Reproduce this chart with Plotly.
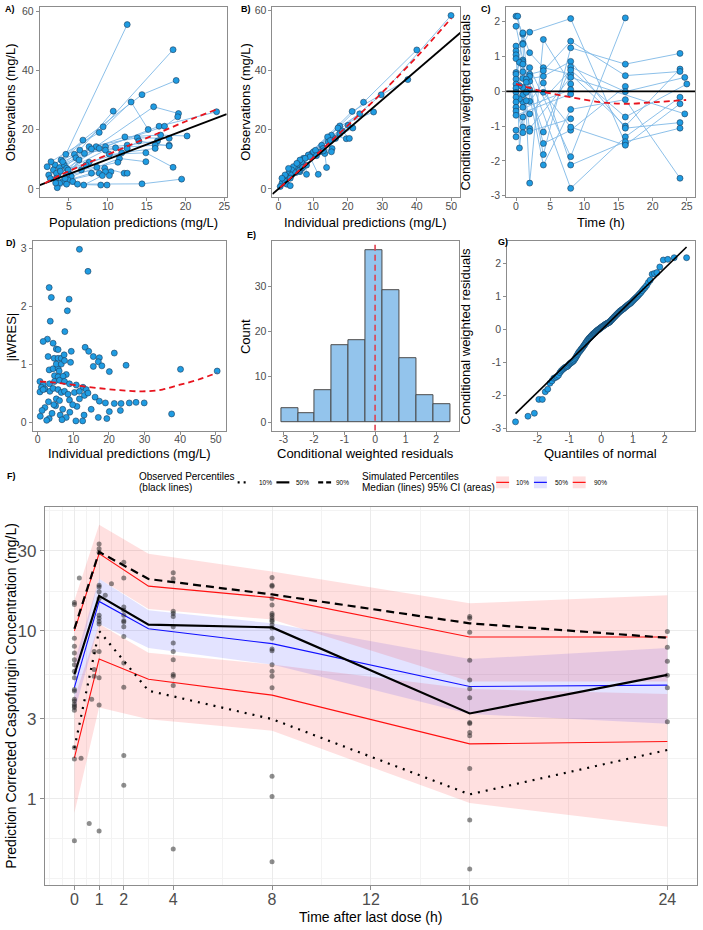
import numpy as np
import plotly.graph_objects as go
from statistics import NormalDist

# ======================= DATA =======================
# Panel A: population predictions vs observations (one list per subject)
a_pred = [
    [4.6, 12.5], [4.0, 9.4, 18.4], [3.2, 6.8, 14.4, 18.8], [2.7, 8.9, 13.0, 15.2],
    [3.8, 6.4, 10.7], [4.4, 9.7, 16.6, 24.0], [4.2, 8.5, 15.9, 19.1], [4.7, 8.9, 17.3, 19.0],
    [2.2, 5.7, 12.2, 16.8, 20.2], [4.9, 7.6, 13.8, 17.9], [3.0, 7.9, 12.5, 16.4],
    [5.1, 7.0, 11.0, 16.1, 17.9], [3.6, 9.7, 12.5, 14.0, 17.9], [2.4, 7.6, 11.8, 16.1],
    [3.4, 7.2, 10.2, 14.9, 18.4], [5.3, 8.6, 11.5, 14.9], [3.4, 6.6, 11.3], [4.7, 9.6, 12.1, 12.5],
    [4.9, 7.9, 10.4], [4.2, 8.9, 9.7, 10.2], [3.8, 6.9, 9.3], [3.5, 4.7, 9.1, 9.9],
    [5.5, 6.1, 14.4, 19.5], [2.6, 3.9, 5.9], [3.3, 4.5, 6.3],
]
a_obs = [
    [11.7, 55.6], [9.8, 21.0, 47.1], [8.1, 16.5, 31.9, 36.7], [9.2, 19.1, 29.4, 20.1],
    [7.2, 13.1, 26.3], [8.1, 14.3, 21.2, 26.1], [9.2, 14.3, 27.8, 25.5], [7.0, 13.7, 21.2, 24.4],
    [7.5, 11.7, 17.6, 18.2, 17.9], [6.4, 14.3, 17.3, 17.1], [6.4, 13.5, 14.8, 16.2],
    [4.9, 12.0, 13.9, 14.8, 14.8], [4.9, 13.1, 13.7, 16.2, 14.5], [4.7, 9.0, 12.2, 13.7],
    [5.3, 8.1, 11.7, 12.2, 7.3], [4.2, 7.3, 10.3, 9.2], [3.6, 6.4, 9.0], [4.7, 7.0, 5.3, 5.3],
    [3.0, 5.3, 5.8], [2.5, 5.3, 5.8, 4.5], [1.9, 1.3, 4.5], [0.4, 1.6, 1.3, 1.3],
    [2.5, 1.6, 1.7, 3.3], [3.5, 6.0, 10.5], [2.0, 3.5, 9.8],
]
a_loess_x = [1.9, 4, 7, 10, 13, 16, 20, 24]
a_loess_y = [1.9, 4.8, 8.3, 11.6, 15.0, 18.3, 22.8, 26.9]

# Panel B: individual predictions vs observations
b_ipred = [
    [9.6, 29.7, 49.9], [10.1, 24.6, 40.0], [8.6, 21.3, 37.4], [7.2, 17.7, 27.5],
    [6.7, 17.2, 23.5], [5.7, 15.3, 19.6], [4.8, 14.2, 17.7], [4.3, 12.5, 14.4],
    [3.8, 12.0, 15.5], [2.9, 12.9, 15.3], [2.4, 10.7, 13.4, 13.9], [1.4, 9.1, 11.5],
    [1.0, 7.7, 8.1], [0.5, 6.2, 6.2], [2.9, 5.3, 6.7], [3.8, 8.1], [1.9, 3.4, 2.4, 3.4],
    [1.9, 1.0], [5.0, 11.0, 16.5, 20.1], [6.0, 13.0, 18.5, 20.5], [7.0, 15.0, 21.5],
]
b_obs = [
    [11.9, 31.7, 58.4], [12.5, 29.2, 46.8], [11.4, 26.1, 36.8], [10.3, 21.2, 25.9],
    [9.1, 20.5, 25.3], [8.0, 18.1, 16.9], [6.9, 17.5, 18.6], [7.5, 14.7, 15.8],
    [6.4, 12.5, 13.6], [5.2, 13.6, 12.5], [4.1, 13.0, 11.9, 7.2], [3.0, 10.8, 4.9],
    [1.9, 10.3, 4.9], [0.8, 9.7, 5.8], [6.9, 8.6, 6.9], [4.7, 8.0], [2.5, 3.6, 1.6, 1.1],
    [4.7, 3.6], [5.5, 11.2, 17.0, 21.4], [6.2, 12.8, 19.5, 17.0], [7.2, 16.3, 20.5],
]
b_loess_x = [0.5, 10, 20, 30, 40, 50]
b_loess_y = [0.5, 10.5, 21.3, 32.5, 44.5, 57.5]

# Panel C: time vs conditional weighted residuals (per subject)
c_time = [
    [0, 1, 2, 4, 8, 16, 24], [0.25, 1, 2, 4, 8], [0, 1, 2, 8, 16], [0, 0.5, 1, 2, 4, 8, 16, 24],
    [0, 1, 2, 8, 16], [0, 1, 4, 8, 16, 24], [0, 1, 2, 4, 8, 16, 24], [0, 0.5, 1, 2, 8, 16, 24],
    [0, 1, 1.5, 4, 8, 16, 24], [0, 0.5, 1, 2, 4, 8, 16], [0, 1, 2, 4, 8, 16, 24],
    [0, 1, 1.5, 4, 8, 16, 24.7], [0, 0.5, 1, 2, 8, 16, 25.0], [0, 1, 1.5, 4, 8, 16, 24],
    [0, 1, 2, 8, 24.7], [0, 1, 1.5, 2, 8], [0, 8], [0, 8], [0], [0],
]
c_cwres = [
    [2.16, 1.64, 1.11, 0.68, 0.49, -1.00, 0.64], [2.16, 1.38, -2.64, 1.49, 0.21],
    [1.87, 0.90, 0.68, -1.88, 2.11], [1.30, -1.63, -0.74, 0.29, -1.82, 1.25, 0.78, 1.09],
    [1.16, 1.35, 1.70, 2.09, -1.50], [1.05, 0.85, -2.12, -0.52, -0.24, -2.50],
    [0.94, 0.56, 0.49, 0.59, 1.44, 0.45, 0.57], [0.54, 0.83, 0.37, 0.43, -2.79, -1.31, -0.17],
    [0.49, 0.11, 0.35, 0.43, 0.86, -1.06, -0.90], [0.35, 0.16, -0.10, 0.05, -1.50, -1.12, 0.14],
    [0.21, 1.68, -0.29, 0.24, -2.12, -1.45, -1.06], [0.09, -0.31, 0.26, -1.17, 0.70, -0.01, 0.40],
    [-0.03, -0.22, -0.46, -0.65, 0.61, -0.74, 0.21], [-0.17, 0.78, -0.03, -0.03, -1.03, -1.55, -0.36],
    [-0.31, -1.03, -1.07, 0.40, -0.65], [-0.46, -1.19, -0.27, -1.15, -0.79],
    [-0.57, 0.05], [-0.69, -0.08], [-1.12], [-1.31],
]
c_loess_t = [0, 4, 8, 12.3, 15.9, 20.5, 24.9]
c_loess_y = [0.21, -0.01, -0.17, -0.31, -0.36, -0.31, -0.25]

# Panel D: individual predictions vs |iWRES|
d_ipred = [
    11.7, 14.1, 3.2, 3.8, 8.8, 8.3, 3.5, 7.6, 2.7, 1.5,
    4.3, 13.3, 14.3, 21.5, 9.4, 5.2, 5.7, 2.9, 4.6, 5.7,
    6.6, 7.4, 15.6, 17.3, 17.0, 9.2, 18.0, 15.6, 24.8, 20.1,
    40.1, 50.4, 3.2, 4.3, 5.7, 6.0, 5.2, 6.6, 7.5, 4.7,
    5.7, 8.0, 7.1, 0.6, 1.5, 3.3, 4.7, 6.1, 7.5, 8.9,
    10.8, 12.7, 13.6, 1.0, 2.0, 0.6, 1.5, 3.4, 4.3, 5.7,
    6.6, 7.5, 8.5, 10.3, 11.7, 13.1, 14.1, 5.2, 6.1, 8.9,
    11.7, 16.1, 17.3, 19.0, 21.5, 23.4, 25.7, 27.6, 29.9, 0.7,
    3.2, 6.3, 10.7, 12.6, 19.4, 20.1, 23.2, 37.6, 2.0, 4.0,
    5.0, 7.0, 8.0, 9.0, 11.0, 13.0, 15.0, 2.5, 4.5, 6.8,
    9.8, 1.2, 3.0, 17.0,
]
d_iwres = [
    2.98, 2.60, 2.32, 2.15, 2.12, 1.92, 1.74, 1.56, 1.43, 1.39,
    1.36, 1.29, 1.22, 1.19, 1.22, 1.26, 1.25, 1.13, 1.10, 1.10,
    1.10, 1.16, 1.13, 1.11, 1.04, 1.03, 0.97, 0.96, 0.98, 0.87,
    0.91, 0.88, 0.90, 0.92, 0.93, 0.88, 1.00, 1.00, 1.06, 0.80,
    0.78, 0.82, 0.79, 0.70, 0.64, 0.66, 0.70, 0.72, 0.70, 0.66,
    0.64, 0.60, 0.56, 0.60, 0.57, 0.52, 0.56, 0.53, 0.58, 0.56,
    0.51, 0.53, 0.48, 0.51, 0.53, 0.46, 0.50, 0.40, 0.37, 0.38,
    0.40, 0.43, 0.36, 0.33, 0.32, 0.32, 0.33, 0.34, 0.33, 0.10,
    0.06, 0.12, 0.02, 0.02, 0.06, 0.18, 0.20, 0.14, 0.25, 0.15,
    0.28, 0.22, 0.08, 0.17, 0.27, 0.12, 0.22, 0.03, 0.30, 0.04,
    0.30, 0.20, 0.35, 0.08,
]
d_loess_x = [0.6, 5, 10, 16.4, 23, 29.4, 35, 39.7, 45, 50.4]
d_loess_y = [0.70, 0.68, 0.64, 0.59, 0.55, 0.53, 0.56, 0.64, 0.73, 0.85]

# Panels E & G: conditional weighted residuals (all observations)
cwres = [
    -2.79, -2.62, -2.53, -2.11, -2.11,
    -1.88, -1.80, -1.62, -1.55, -1.47, -1.45, -1.42,
    -1.38, -1.30, -1.25, -1.21, -1.18, -1.15, -1.13, -1.12, -1.10, -1.06, -1.03, -1.01,
    -0.99, -0.97, -0.95, -0.92, -0.88,
    -0.84, -0.80, -0.76, -0.72, -0.68, -0.66, -0.63, -0.60, -0.57, -0.55, -0.52, -0.49,
    -0.46, -0.43, -0.40, -0.37, -0.34, -0.32,
    -0.29, -0.27, -0.25, -0.23, -0.21, -0.19, -0.17, -0.15, -0.13, -0.12, -0.10, -0.09,
    -0.07, -0.05, -0.04, -0.02, -0.01, 0.00, 0.02, 0.03, 0.04, 0.06, 0.07, 0.08, 0.10,
    0.11, 0.12, 0.13, 0.15, 0.16, 0.17, 0.18, 0.19, 0.20, 0.21, 0.22, 0.23, 0.25,
    0.27, 0.29, 0.31, 0.33, 0.35, 0.37, 0.39, 0.41, 0.43, 0.45, 0.47, 0.49, 0.51, 0.53,
    0.55, 0.57, 0.58, 0.60, 0.62, 0.63, 0.65, 0.67, 0.69, 0.71, 0.73, 0.75, 0.77, 0.79, 0.80,
    0.83, 0.86, 0.89, 0.92, 0.95, 0.98, 1.01, 1.05, 1.09, 1.13, 1.18, 1.23, 1.28, 1.34,
    1.43, 1.50, 1.68, 1.70, 1.73, 1.90,
    2.11, 2.13, 2.18, 2.18,
]

# Panel F: prediction-corrected VPC
sim_time = [0, 1, 3, 8, 16, 24]
sim_p10_med = [1.75, 6.8, 5.15, 4.14, 2.12, 2.19]
sim_p10_lo = [0.82, 3.5, 2.97, 2.54, 0.94, 0.68]
sim_p10_hi = [4.0, 11.0, 7.4, 6.3, 4.5, 4.2]
sim_p50_med = [4.6, 15.0, 10.3, 8.4, 4.66, 4.75]
sim_p50_lo = [3.3, 11.0, 7.9, 6.3, 3.2, 2.8]
sim_p50_hi = [6.5, 20.5, 13.3, 11.1, 6.8, 7.9]
sim_p90_med = [10.0, 28.9, 18.5, 15.8, 9.2, 9.2]
sim_p90_lo = [5.5, 20.5, 13.5, 11.7, 5.0, 5.0]
sim_p90_hi = [15.2, 43.0, 28.9, 22.6, 14.6, 16.3]

obs_time = [0, 1, 3, 8, 16, 24]
obs_p10 = [2.0, 10.0, 4.4, 2.98, 1.06, 1.95]
obs_p50 = [5.5, 16.2, 10.9, 10.5, 3.22, 5.47]
obs_p90 = [10.3, 29.6, 20.4, 16.5, 11.1, 9.1]

obs_pt_time_groups = [0, 0.2, 0.27, 0.6, 0.7, 0.8, 1, 1.25, 1.5, 2, 4, 8, 16, 24]
obs_pt_conc_groups = [
    [14.8, 14.4, 9.05, 8.09, 7.38, 6.73, 6.29, 5.75, 5.25, 4.48, 4.38, 3.91, 3.82, 3.65,
     3.57, 3.49, 3.36, 2.02, 1.72, 0.56],
    [20.7], [1.74], [0.71], [3.91], [7.55, 5.88, 5.37],
    [33.0, 30.9, 29.5, 18.7, 18.3, 17.1, 15.6, 12.4, 11.9, 11.4, 11.0, 7.55, 5.25, 3.62, 0.64],
    [16.3], [19.1],
    [25.7, 20.7, 13.9, 13.3, 12.4, 11.5, 11.3, 10.6, 9.27, 6.44, 4.62, 1.81, 1.20],
    [22.2, 20.5, 13.1, 12.7, 12.2, 10.6, 8.46, 7.55, 6.73, 5.49, 5.37, 4.73, 0.50],
    [20.8, 18.7, 18.5, 15.6, 14.3, 12.7, 12.4, 12.0, 11.6, 11.4, 10.9, 10.4, 9.05, 7.79,
     7.62, 6.29, 5.75, 5.37, 4.58, 1.36, 1.03, 0.42],
    [12.2, 11.9, 9.82, 6.68, 5.09, 4.52, 4.0, 2.84, 2.81, 2.48, 2.37, 1.51, 0.745, 0.38],
    [9.92, 7.98, 6.59, 5.45, 4.58, 2.87],
]

f_xticks = [0, 1, 2, 4, 8, 12, 16, 24]
f_xminor = [-1, -0.5, 0.5, 1.5, 3, 6, 10, 14, 20]
f_yticks = [1, 3, 10, 30]
f_yminor = [0.333, 0.577, 1.73, 5.48, 17.3, 52.0]

# ======================= STYLE / HELPERS =======================
W, H = 703, 930
FONT = "Liberation Sans, Arial, sans-serif"
FRAME = "#8C8C8C"
TICKC = "#4D4D4D"
PT_FILL = "#1F9CE2"
PT_EDGE = "#1D3D5C"
LINE_BLUE = "#7FB9E6"
RED = "#E8141E"


def px(x):
    return x / W


def py(y):
    return 1 - y / H


def fmt(v):
    return str(int(v)) if float(v).is_integer() else str(v)


def join_subjects(xs_list, ys_list):
    X, Y = [], []
    for xs, ys in zip(xs_list, ys_list):
        X += list(xs) + [None]
        Y += list(ys) + [None]
    return X, Y


def flat(lst):
    return [v for s in lst for v in s]


def axis(dom, rng, vals, anchor, size=10.5, ticklen=3, **kw):
    d = dict(domain=dom, range=rng, tickmode="array", tickvals=vals,
             ticktext=[fmt(v) for v in vals], anchor=anchor, showgrid=False,
             zeroline=False, showline=True, mirror=True, linecolor=FRAME, linewidth=1,
             ticks="outside", ticklen=ticklen, tickwidth=1, tickcolor=FRAME,
             tickfont=dict(family=FONT, size=size, color=TICKC))
    d.update(kw)
    return d


pts_marker = dict(size=6, color=PT_FILL, line=dict(color=PT_EDGE, width=0.6))

fig = go.Figure()

# ---------- A ----------
A_XR, A_YR = [1.25, 25.3], [-2.76, 61.4]
X, Y = join_subjects(a_pred, a_obs)
fig.add_trace(go.Scatter(x=X, y=Y, mode="lines", line=dict(color=LINE_BLUE, width=0.9),
                         xaxis="x", yaxis="y", connectgaps=False))
fig.add_trace(go.Scatter(x=flat(a_pred), y=flat(a_obs), mode="markers", marker=pts_marker,
                         xaxis="x", yaxis="y"))
fig.add_trace(go.Scatter(x=A_XR, y=A_XR, mode="lines", line=dict(color="black", width=1.8),
                         xaxis="x", yaxis="y"))
fig.add_trace(go.Scatter(x=a_loess_x, y=a_loess_y, mode="lines", line_shape="spline",
                         line=dict(color=RED, width=1.8, dash="6px,4px"), xaxis="x", yaxis="y"))

# ---------- B ----------
B_XR, B_YR = [-1.75, 52.6], [-2.74, 61.1]
X, Y = join_subjects(b_ipred, b_obs)
fig.add_trace(go.Scatter(x=X, y=Y, mode="lines", line=dict(color=LINE_BLUE, width=0.9),
                         xaxis="x2", yaxis="y2"))
fig.add_trace(go.Scatter(x=flat(b_ipred), y=flat(b_obs), mode="markers", marker=pts_marker,
                         xaxis="x2", yaxis="y2"))
fig.add_trace(go.Scatter(x=B_XR, y=B_XR, mode="lines", line=dict(color="black", width=1.8),
                         xaxis="x2", yaxis="y2"))
fig.add_trace(go.Scatter(x=b_loess_x, y=b_loess_y, mode="lines", line_shape="spline",
                         line=dict(color=RED, width=1.8, dash="6px,4px"), xaxis="x2", yaxis="y2"))

# ---------- C ----------
C_XR, C_YR = [-1.45, 26.2], [-3.04, 2.41]
X, Y = join_subjects(c_time, c_cwres)
fig.add_trace(go.Scatter(x=X, y=Y, mode="lines", line=dict(color=LINE_BLUE, width=0.9),
                         xaxis="x3", yaxis="y3"))
fig.add_trace(go.Scatter(x=flat(c_time), y=flat(c_cwres), mode="markers", marker=pts_marker,
                         xaxis="x3", yaxis="y3"))
fig.add_trace(go.Scatter(x=C_XR, y=[0, 0], mode="lines", line=dict(color="black", width=1.8),
                         xaxis="x3", yaxis="y3"))
fig.add_trace(go.Scatter(x=c_loess_t, y=c_loess_y, mode="lines", line_shape="spline",
                         line=dict(color=RED, width=1.8, dash="6px,4px"), xaxis="x3", yaxis="y3"))

# ---------- D ----------
D_XR, D_YR = [-1.4, 52.8], [-0.15, 3.12]
fig.add_trace(go.Scatter(x=d_ipred, y=d_iwres, mode="markers", marker=pts_marker,
                         xaxis="x4", yaxis="y4"))
fig.add_trace(go.Scatter(x=d_loess_x, y=d_loess_y, mode="lines", line_shape="spline",
                         line=dict(color=RED, width=1.8, dash="6px,4px"), xaxis="x4", yaxis="y4"))

# ---------- E ----------
E_XR, E_YR = [-3.356, 2.756], [-1.9, 39.9]
fig.add_trace(go.Histogram(x=cwres, xbins=dict(start=-3.0778, end=2.48, size=0.5556),
                           marker=dict(color="#93C4EC", line=dict(color="#4A4A4A", width=1)),
                           xaxis="x5", yaxis="y5"))
fig.add_trace(go.Scatter(x=[0, 0], y=E_YR, mode="lines",
                         line=dict(color="#E0404E", width=1.6, dash="6px,4px"),
                         xaxis="x5", yaxis="y5"))

# ---------- G ----------
G_XR, G_YR = [-2.95, 2.95], [-3.06, 2.68]
samp = np.sort(np.array(cwres))
n = len(samp)
nd = NormalDist()
theo = np.array([nd.inv_cdf((i + 0.5) / n) for i in range(n)])
q25, q75 = np.quantile(samp, [0.25, 0.75])
t25, t75 = nd.inv_cdf(0.25), nd.inv_cdf(0.75)
slope = (q75 - q25) / (t75 - t25)
icpt = q25 - slope * t25
fig.add_trace(go.Scatter(x=theo, y=samp, mode="markers", marker=pts_marker,
                         xaxis="x6", yaxis="y6"))
lx = np.array([theo[0], theo[-1]])
fig.add_trace(go.Scatter(x=lx, y=icpt + slope * lx, mode="lines",
                         line=dict(color="black", width=1.6), xaxis="x6", yaxis="y6"))

# ---------- F ----------
PINK = "rgba(255,0,0,0.12)"
LAV = "rgba(0,0,255,0.11)"


def band(lo, hi, color):
    return go.Scatter(x=sim_time + sim_time[::-1], y=hi + lo[::-1], fill="toself",
                      fillcolor=color, line=dict(width=0), mode="lines",
                      xaxis="x7", yaxis="y7", hoverinfo="skip")


fig.add_trace(band(sim_p10_lo, sim_p10_hi, PINK))
fig.add_trace(band(sim_p50_lo, sim_p50_hi, LAV))
fig.add_trace(band(sim_p90_lo, sim_p90_hi, PINK))
for med, col in [(sim_p10_med, "#FF1010"), (sim_p50_med, "#1010FF"), (sim_p90_med, "#FF1010")]:
    fig.add_trace(go.Scatter(x=sim_time, y=med, mode="lines", line=dict(color=col, width=1.1),
                             xaxis="x7", yaxis="y7"))
pt_t, pt_c = [], []
for t, cs in zip(obs_pt_time_groups, obs_pt_conc_groups):
    pt_t += [t] * len(cs)
    pt_c += cs
fig.add_trace(go.Scatter(x=pt_t, y=pt_c, mode="markers",
                         marker=dict(size=5, color="rgba(30,30,30,0.5)"),
                         xaxis="x7", yaxis="y7"))
fig.add_trace(go.Scatter(x=obs_time, y=obs_p10, mode="lines",
                         line=dict(color="black", width=2.2, dash="2px,6px"), xaxis="x7", yaxis="y7"))
fig.add_trace(go.Scatter(x=obs_time, y=obs_p50, mode="lines",
                         line=dict(color="black", width=2.2), xaxis="x7", yaxis="y7"))
fig.add_trace(go.Scatter(x=obs_time, y=obs_p90, mode="lines",
                         line=dict(color="black", width=2.2, dash="8px,5px"), xaxis="x7", yaxis="y7"))

# ======================= LAYOUT =======================
row1 = [py(195.5), py(4.5)]
row2 = [py(431), py(240)]
XS = dict(ticklabelstandoff=-4)
layout = dict(
    width=W, height=H, margin=dict(l=0, r=0, t=0, b=0),
    paper_bgcolor="white", plot_bgcolor="white", showlegend=False,
    font=dict(family=FONT), bargap=0,
    xaxis=axis([px(40), px(228)], A_XR, [5, 10, 15, 20, 25], "y", **XS),
    yaxis=axis(row1, A_YR, [0, 20, 40, 60], "x"),
    xaxis2=axis([px(274), px(463)], B_XR, [0, 10, 20, 30, 40, 50], "y2", **XS),
    yaxis2=axis(row1, B_YR, [0, 20, 40, 60], "x2"),
    xaxis3=axis([px(509), px(699)], C_XR, [0, 5, 10, 15, 20, 25], "y3", **XS),
    yaxis3=axis(row1, C_YR, [-3, -2, -1, 0, 1, 2], "x3"),
    xaxis4=axis([px(33), px(227)], D_XR, [0, 10, 20, 30, 40, 50], "y4", **XS),
    yaxis4=axis(row2, D_YR, [0, 1, 2, 3], "x4"),
    xaxis5=axis([px(274), px(462)], E_XR, [-3, -2, -1, 0, 1, 2], "y5", **XS),
    yaxis5=axis(row2, E_YR, [0, 10, 20, 30], "x5"),
    xaxis6=axis([px(510), px(699)], G_XR, [-2, -1, 0, 1, 2], "y6", **XS),
    yaxis6=axis(row2, G_YR, [-3, -2, -1, 0, 1, 2], "x6"),
    xaxis7=axis([px(45), px(701)], [-1.2, 25.2], f_xticks, "y7", size=16, ticklen=4,
                ticklabelstandoff=-5,
                showgrid=True, gridcolor="#EBEBEB", gridwidth=1,
                minor=dict(tickmode="array", tickvals=f_xminor, showgrid=True,
                           gridcolor="#F3F3F3", gridwidth=0.6, ticks="")),
    yaxis7=axis([py(889), py(508)], [-0.517, 1.738], f_yticks, "x7", size=17, ticklen=4,
                type="log", showgrid=True, gridcolor="#EBEBEB", gridwidth=1,
                minor=dict(tickmode="array", tickvals=f_yminor, showgrid=True,
                           gridcolor="#F3F3F3", gridwidth=0.6, ticks="")),
)
fig.update_layout(**layout)

ann = []


def text(s, x, y, size=13, angle=0, xanchor="center", bold=False, color="black"):
    ann.append(dict(text=("<b>%s</b>" % s) if bold else s, x=px(x), y=py(y),
                    xref="paper", yref="paper", showarrow=False, textangle=angle,
                    xanchor=xanchor, yanchor="middle",
                    font=dict(family=FONT, size=size, color=color)))


# panel tags
for s, x, y in [("A)", 3, 6), ("B)", 240, 6), ("C)", 482, 6), ("D)", 4, 242),
                ("E)", 246, 234), ("G)", 499, 241), ("F)", 5, 477)]:
    text(s, x, y, size=9, xanchor="left", bold=True)

# axis titles
text("Population predictions (mg/L)", 134, 221)
text("Individual predictions (mg/L)", 368, 221)
text("Time (h)", 604, 221)
text("Observations (mg/L)", 10, 100, angle=-90)
text("Observations (mg/L)", 247, 100, angle=-90)
text("Conditional weighted residuals", 468, 100, angle=-90)
text("Individual predictions (mg/L)", 130, 454)
text("Conditional weighted residuals", 368, 454)
text("Quantiles of normal", 604, 454)
text("|iWRES|", 12, 336, angle=-90)
text("Count", 247, 336, angle=-90)
text("Conditional weighted residuals", 468, 336, angle=-90)
text("Time after last dose (h)", 373, 921, size=14)
text("Prediction Corrected Caspofungin Concentration (mg/L)", 11, 698, size=14, angle=-90)

# F legend texts
text("Observed Percentiles", 138, 477, size=10, xanchor="left")
text("(black lines)", 138, 488, size=10, xanchor="left")
text("Simulated Percentiles", 362, 477, size=10, xanchor="left")
text("Median (lines) 95% CI (areas)", 362, 488, size=10, xanchor="left")
for s, x in [("10%", 258), ("50%", 296), ("90%", 336), ("10%", 517), ("50%", 556), ("90%", 595)]:
    text(s, x, 483, size=6.5, xanchor="left")

shapes = []
LY = py(483)
shapes.append(dict(type="line", xref="paper", yref="paper", x0=px(239), x1=px(251), y0=LY, y1=LY,
                   line=dict(color="black", width=2.2, dash="2px,4px")))
shapes.append(dict(type="line", xref="paper", yref="paper", x0=px(278), x1=px(291), y0=LY, y1=LY,
                   line=dict(color="black", width=2.2)))
shapes.append(dict(type="line", xref="paper", yref="paper", x0=px(320), x1=px(333), y0=LY, y1=LY,
                   line=dict(color="black", width=2.2, dash="5px,3px")))
for x0, fillc, lc in [(499, PINK, "#FF1010"), (537, LAV, "#1010FF"), (576, PINK, "#FF1010")]:
    shapes.append(dict(type="rect", xref="paper", yref="paper", x0=px(x0), x1=px(x0 + 13),
                       y0=py(489), y1=py(477), fillcolor=fillc, line=dict(width=0)))
    shapes.append(dict(type="line", xref="paper", yref="paper", x0=px(x0), x1=px(x0 + 13),
                       y0=LY, y1=LY, line=dict(color=lc, width=1.2)))

fig.update_layout(annotations=ann, shapes=shapes)
fig.write_html("out.html")
